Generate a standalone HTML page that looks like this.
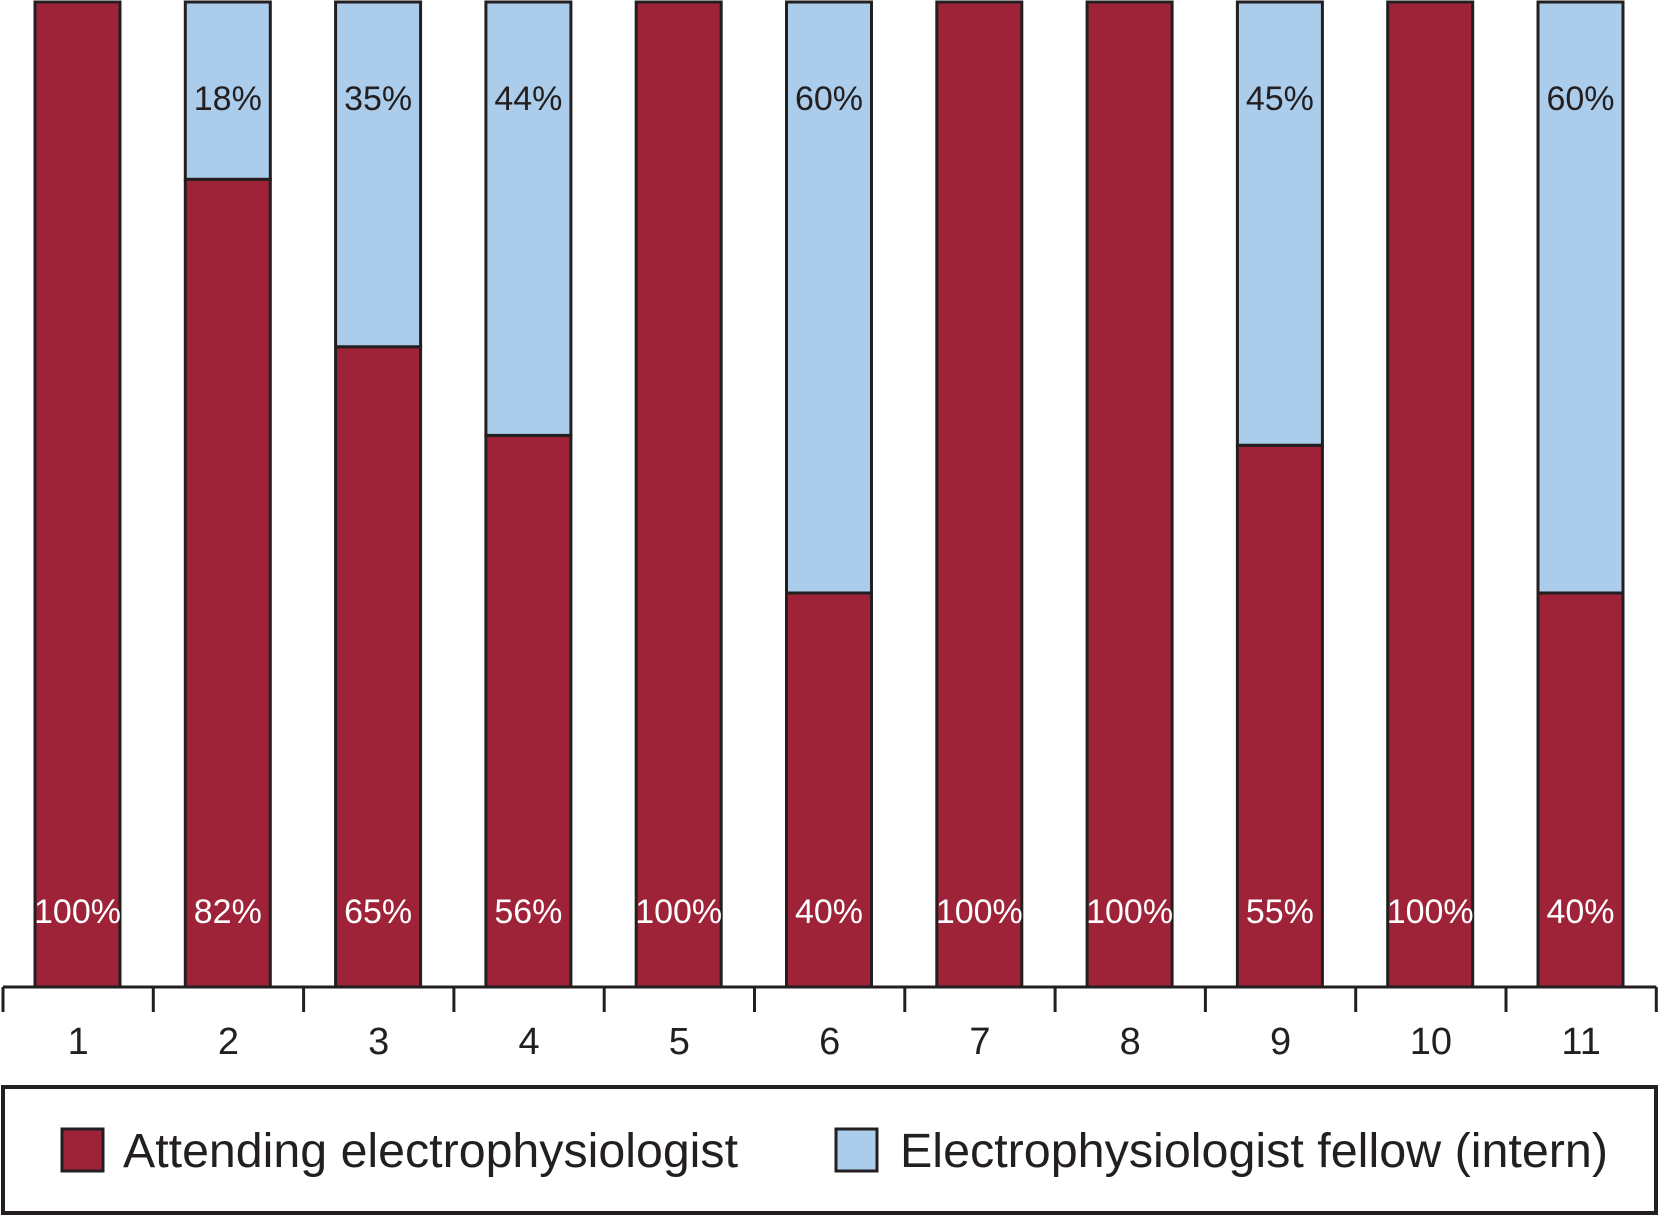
<!DOCTYPE html>
<html><head><meta charset="utf-8"><style>
html,body{margin:0;padding:0;background:#fff;}
svg{display:block;font-family:"Liberation Sans",Arial,sans-serif;}
</style></head><body>
<svg id="chart" width="1659" height="1216" viewBox="0 0 1659 1216">
<g id="bars"></g>
<g id="axis"></g>
<g>
<rect x="3" y="1087" width="1653" height="126" fill="#fff" stroke="#231f20" stroke-width="4"/>
<rect x="62" y="1129" width="41" height="42" fill="#9e2238" stroke="#231f20" stroke-width="3"/>
<text x="123" y="1167" font-size="48" textLength="615" lengthAdjust="spacingAndGlyphs" fill="#231f20">Attending electrophysiologist</text>
<rect x="836" y="1129" width="41" height="42" fill="#abcdeb" stroke="#231f20" stroke-width="3"/>
<text x="900" y="1167" font-size="48" textLength="708" lengthAdjust="spacingAndGlyphs" fill="#231f20">Electrophysiologist fellow (intern)</text>
</g>
</svg>
<script>
const categories = ["1","2","3","4","5","6","7","8","9","10","11"];
const attending = [100,82,65,56,100,40,100,100,55,100,40];
const fellow = [0,18,35,44,0,60,0,0,45,0,60];
const NS="http://www.w3.org/2000/svg";
const x0=3, step=150.3, barOff=32, barW=85, baseY=987, topY=2;
const xs=i=>x0+i*step;
const ys=v=>baseY-(v/100)*(baseY-topY);
const bars=document.getElementById('bars'), axis=document.getElementById('axis');
function mk(tag,attrs,parent){const e=document.createElementNS(NS,tag);for(const k in attrs)e.setAttribute(k,attrs[k]);parent.appendChild(e);return e;}
categories.forEach((c,i)=>{
  const bx=xs(i)+barOff;
  const a=attending[i], f=fellow[i];
  const r1=mk('rect',{x:bx,y:ys(a),width:barW,height:ys(0)-ys(a),fill:'#9e2238',stroke:'#231f20','stroke-width':3},bars);
  
  
  if(f>0){
    const r2=mk('rect',{x:bx,y:ys(a+f),width:barW,height:ys(a)-ys(a+f),fill:'#abcdeb',stroke:'#231f20','stroke-width':3},bars);
    
    
    const t2=mk('text',{x:bx+barW/2,y:110,'text-anchor':'middle','font-size':34,fill:'#231f20'},bars);
    t2.textContent=f+'%';
    
    
  }
  const t1=mk('text',{x:bx+barW/2,y:923,'text-anchor':'middle','font-size':34,fill:'#fff'},bars);
  t1.textContent=a+'%';
  
  
  const lab=mk('text',{x:xs(i)+step/2,y:1054,'text-anchor':'middle','font-size':38,fill:'#231f20'},axis);
  lab.textContent=c;
  
  
});
const al=mk('line',{x1:x0,x2:xs(categories.length),y1:baseY,y2:baseY,stroke:'#231f20','stroke-width':3},axis);


for(let i=0;i<=categories.length;i++){
  const t=mk('line',{x1:xs(i),x2:xs(i),y1:baseY,y2:1012,stroke:'#231f20','stroke-width':3},axis);
  
  
}
</script>
</body></html>
